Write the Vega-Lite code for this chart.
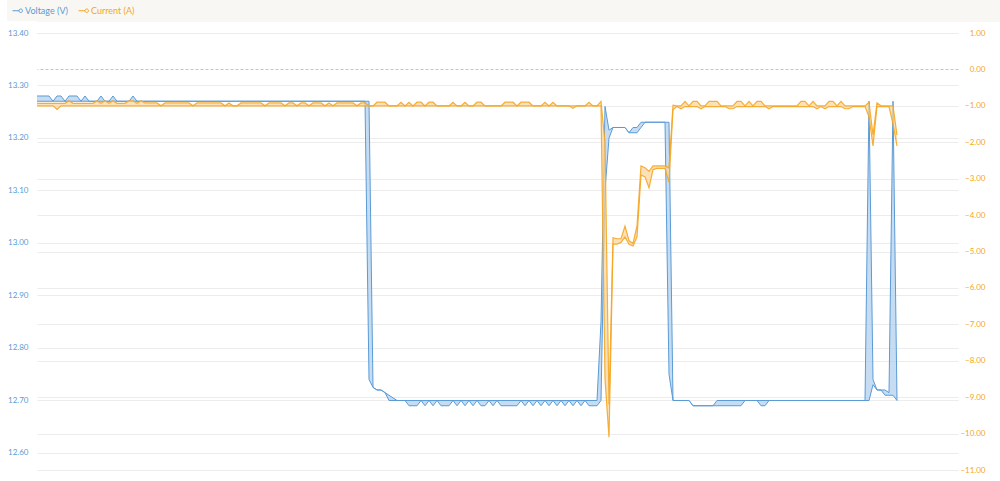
{
"$schema":"https://vega.github.io/schema/vega-lite/v6.json",
"padding":0,
"spacing":7,
"config":{"view":{"stroke":null},"font":"Lato"},
"datasets":{"d":[
{"t":0,"vl":13.27,"vh":13.28,"cl":-1,"ch":-0.93},
{"t":1,"vl":13.27,"vh":13.28,"cl":-1,"ch":-0.93},
{"t":2,"vl":13.27,"vh":13.28,"cl":-1,"ch":-0.93},
{"t":3,"vl":13.27,"vh":13.28,"cl":-1,"ch":-0.93},
{"t":4,"vl":13.27,"vh":13.27,"cl":-1,"ch":-0.93},
{"t":5,"vl":13.27,"vh":13.28,"cl":-1.1,"ch":-0.93},
{"t":6,"vl":13.27,"vh":13.28,"cl":-1,"ch":-0.93},
{"t":7,"vl":13.27,"vh":13.27,"cl":-1,"ch":-0.93},
{"t":8,"vl":13.27,"vh":13.28,"cl":-1,"ch":-0.86},
{"t":9,"vl":13.27,"vh":13.28,"cl":-1,"ch":-0.93},
{"t":10,"vl":13.27,"vh":13.28,"cl":-1,"ch":-0.93},
{"t":11,"vl":13.27,"vh":13.27,"cl":-1,"ch":-0.93},
{"t":12,"vl":13.27,"vh":13.28,"cl":-1,"ch":-0.93},
{"t":13,"vl":13.27,"vh":13.27,"cl":-1,"ch":-0.93},
{"t":14,"vl":13.27,"vh":13.27,"cl":-1,"ch":-0.93},
{"t":15,"vl":13.27,"vh":13.27,"cl":-1,"ch":-0.86},
{"t":16,"vl":13.27,"vh":13.28,"cl":-1,"ch":-0.93},
{"t":17,"vl":13.27,"vh":13.27,"cl":-1,"ch":-0.86},
{"t":18,"vl":13.27,"vh":13.27,"cl":-1,"ch":-0.93},
{"t":19,"vl":13.27,"vh":13.28,"cl":-1,"ch":-0.86},
{"t":20,"vl":13.27,"vh":13.27,"cl":-1,"ch":-0.93},
{"t":21,"vl":13.27,"vh":13.27,"cl":-1,"ch":-0.93},
{"t":22,"vl":13.27,"vh":13.27,"cl":-1,"ch":-0.93},
{"t":23,"vl":13.27,"vh":13.27,"cl":-1,"ch":-0.86},
{"t":24,"vl":13.27,"vh":13.28,"cl":-1,"ch":-0.86},
{"t":25,"vl":13.27,"vh":13.27,"cl":-1,"ch":-0.93},
{"t":26,"vl":13.27,"vh":13.27,"cl":-1,"ch":-0.86},
{"t":27,"vl":13.27,"vh":13.27,"cl":-1,"ch":-0.92},
{"t":28,"vl":13.27,"vh":13.27,"cl":-1,"ch":-0.92},
{"t":29,"vl":13.27,"vh":13.27,"cl":-1,"ch":-0.92},
{"t":30,"vl":13.27,"vh":13.27,"cl":-1,"ch":-0.92},
{"t":31,"vl":13.27,"vh":13.27,"cl":-1,"ch":-1},
{"t":32,"vl":13.27,"vh":13.27,"cl":-1,"ch":-0.92},
{"t":33,"vl":13.27,"vh":13.27,"cl":-1,"ch":-0.92},
{"t":34,"vl":13.27,"vh":13.27,"cl":-1,"ch":-0.92},
{"t":35,"vl":13.27,"vh":13.27,"cl":-1,"ch":-0.92},
{"t":36,"vl":13.27,"vh":13.27,"cl":-1,"ch":-0.92},
{"t":37,"vl":13.27,"vh":13.27,"cl":-1,"ch":-0.92},
{"t":38,"vl":13.27,"vh":13.27,"cl":-1,"ch":-0.92},
{"t":39,"vl":13.27,"vh":13.27,"cl":-1,"ch":-1},
{"t":40,"vl":13.27,"vh":13.27,"cl":-1,"ch":-0.92},
{"t":41,"vl":13.27,"vh":13.27,"cl":-1,"ch":-0.92},
{"t":42,"vl":13.27,"vh":13.27,"cl":-1,"ch":-0.92},
{"t":43,"vl":13.27,"vh":13.27,"cl":-1,"ch":-0.92},
{"t":44,"vl":13.27,"vh":13.27,"cl":-1,"ch":-0.92},
{"t":45,"vl":13.27,"vh":13.27,"cl":-1,"ch":-0.92},
{"t":46,"vl":13.27,"vh":13.27,"cl":-1,"ch":-0.92},
{"t":47,"vl":13.27,"vh":13.27,"cl":-1,"ch":-1},
{"t":48,"vl":13.27,"vh":13.27,"cl":-1,"ch":-0.92},
{"t":49,"vl":13.27,"vh":13.27,"cl":-1,"ch":-1},
{"t":50,"vl":13.27,"vh":13.27,"cl":-1,"ch":-1},
{"t":51,"vl":13.27,"vh":13.27,"cl":-1,"ch":-0.92},
{"t":52,"vl":13.27,"vh":13.27,"cl":-1,"ch":-0.92},
{"t":53,"vl":13.27,"vh":13.27,"cl":-1,"ch":-0.92},
{"t":54,"vl":13.27,"vh":13.27,"cl":-1,"ch":-0.92},
{"t":55,"vl":13.27,"vh":13.27,"cl":-1,"ch":-0.92},
{"t":56,"vl":13.27,"vh":13.27,"cl":-1,"ch":-0.92},
{"t":57,"vl":13.27,"vh":13.27,"cl":-1,"ch":-1},
{"t":58,"vl":13.27,"vh":13.27,"cl":-1,"ch":-0.92},
{"t":59,"vl":13.27,"vh":13.27,"cl":-1,"ch":-0.92},
{"t":60,"vl":13.27,"vh":13.27,"cl":-1,"ch":-0.92},
{"t":61,"vl":13.27,"vh":13.27,"cl":-1,"ch":-0.92},
{"t":62,"vl":13.27,"vh":13.27,"cl":-1,"ch":-1},
{"t":63,"vl":13.27,"vh":13.27,"cl":-1,"ch":-0.92},
{"t":64,"vl":13.27,"vh":13.27,"cl":-1,"ch":-0.92},
{"t":65,"vl":13.27,"vh":13.27,"cl":-1,"ch":-1},
{"t":66,"vl":13.27,"vh":13.27,"cl":-1,"ch":-0.92},
{"t":67,"vl":13.27,"vh":13.27,"cl":-1,"ch":-0.92},
{"t":68,"vl":13.27,"vh":13.27,"cl":-1,"ch":-1},
{"t":69,"vl":13.27,"vh":13.27,"cl":-1,"ch":-0.92},
{"t":70,"vl":13.27,"vh":13.27,"cl":-1,"ch":-0.92},
{"t":71,"vl":13.27,"vh":13.27,"cl":-1,"ch":-0.92},
{"t":72,"vl":13.27,"vh":13.27,"cl":-1,"ch":-1},
{"t":73,"vl":13.27,"vh":13.27,"cl":-1,"ch":-0.92},
{"t":74,"vl":13.27,"vh":13.27,"cl":-1,"ch":-1},
{"t":75,"vl":13.27,"vh":13.27,"cl":-1,"ch":-0.92},
{"t":76,"vl":13.27,"vh":13.27,"cl":-1,"ch":-0.92},
{"t":77,"vl":13.27,"vh":13.27,"cl":-1,"ch":-0.92},
{"t":78,"vl":13.27,"vh":13.27,"cl":-1,"ch":-0.92},
{"t":79,"vl":13.27,"vh":13.27,"cl":-1,"ch":-0.92},
{"t":80,"vl":13.27,"vh":13.27,"cl":-1,"ch":-1},
{"t":81,"vl":13.27,"vh":13.27,"cl":-1,"ch":-0.92},
{"t":82,"vl":13.27,"vh":13.27,"cl":-1,"ch":-0.92},
{"t":83,"vl":12.74,"vh":13.27,"cl":-1,"ch":-1},
{"t":84,"vl":12.725,"vh":12.725,"cl":-1,"ch":-1},
{"t":85,"vl":12.72,"vh":12.72,"cl":-1,"ch":-0.9},
{"t":86,"vl":12.72,"vh":12.72,"cl":-1,"ch":-0.9},
{"t":87,"vl":12.715,"vh":12.715,"cl":-1,"ch":-0.9},
{"t":88,"vl":12.7,"vh":12.71,"cl":-1,"ch":-1},
{"t":89,"vl":12.7,"vh":12.705,"cl":-1,"ch":-1},
{"t":90,"vl":12.7,"vh":12.7,"cl":-1,"ch":-1},
{"t":91,"vl":12.7,"vh":12.7,"cl":-1,"ch":-0.9},
{"t":92,"vl":12.7,"vh":12.7,"cl":-1,"ch":-1},
{"t":93,"vl":12.69,"vh":12.7,"cl":-1,"ch":-0.9},
{"t":94,"vl":12.69,"vh":12.7,"cl":-1,"ch":-1},
{"t":95,"vl":12.69,"vh":12.7,"cl":-1,"ch":-0.9},
{"t":96,"vl":12.7,"vh":12.7,"cl":-1,"ch":-0.9},
{"t":97,"vl":12.69,"vh":12.7,"cl":-1,"ch":-1},
{"t":98,"vl":12.7,"vh":12.7,"cl":-1,"ch":-0.9},
{"t":99,"vl":12.69,"vh":12.7,"cl":-1,"ch":-0.9},
{"t":100,"vl":12.7,"vh":12.7,"cl":-1,"ch":-1},
{"t":101,"vl":12.69,"vh":12.7,"cl":-1,"ch":-1},
{"t":102,"vl":12.69,"vh":12.7,"cl":-1,"ch":-1},
{"t":103,"vl":12.69,"vh":12.7,"cl":-1,"ch":-1},
{"t":104,"vl":12.7,"vh":12.7,"cl":-1,"ch":-0.9},
{"t":105,"vl":12.69,"vh":12.7,"cl":-1,"ch":-1},
{"t":106,"vl":12.7,"vh":12.7,"cl":-1,"ch":-1},
{"t":107,"vl":12.69,"vh":12.7,"cl":-1,"ch":-0.9},
{"t":108,"vl":12.7,"vh":12.7,"cl":-1,"ch":-1},
{"t":109,"vl":12.69,"vh":12.7,"cl":-1,"ch":-1},
{"t":110,"vl":12.7,"vh":12.7,"cl":-1,"ch":-0.9},
{"t":111,"vl":12.69,"vh":12.7,"cl":-1,"ch":-0.9},
{"t":112,"vl":12.69,"vh":12.7,"cl":-1,"ch":-1},
{"t":113,"vl":12.7,"vh":12.7,"cl":-1,"ch":-1},
{"t":114,"vl":12.69,"vh":12.7,"cl":-1,"ch":-1},
{"t":115,"vl":12.7,"vh":12.7,"cl":-1,"ch":-1},
{"t":116,"vl":12.69,"vh":12.7,"cl":-1,"ch":-1},
{"t":117,"vl":12.69,"vh":12.7,"cl":-1,"ch":-0.9},
{"t":118,"vl":12.69,"vh":12.7,"cl":-1,"ch":-0.9},
{"t":119,"vl":12.69,"vh":12.7,"cl":-1,"ch":-0.9},
{"t":120,"vl":12.69,"vh":12.7,"cl":-1,"ch":-1},
{"t":121,"vl":12.7,"vh":12.7,"cl":-1,"ch":-0.9},
{"t":122,"vl":12.69,"vh":12.7,"cl":-1,"ch":-0.9},
{"t":123,"vl":12.7,"vh":12.7,"cl":-1,"ch":-0.9},
{"t":124,"vl":12.69,"vh":12.7,"cl":-1,"ch":-1},
{"t":125,"vl":12.7,"vh":12.7,"cl":-1,"ch":-1},
{"t":126,"vl":12.69,"vh":12.7,"cl":-1,"ch":-1},
{"t":127,"vl":12.7,"vh":12.7,"cl":-1,"ch":-0.9},
{"t":128,"vl":12.69,"vh":12.7,"cl":-1,"ch":-1},
{"t":129,"vl":12.7,"vh":12.7,"cl":-1,"ch":-0.9},
{"t":130,"vl":12.69,"vh":12.7,"cl":-1,"ch":-1},
{"t":131,"vl":12.7,"vh":12.7,"cl":-1,"ch":-1},
{"t":132,"vl":12.69,"vh":12.7,"cl":-1,"ch":-1},
{"t":133,"vl":12.7,"vh":12.7,"cl":-1,"ch":-1},
{"t":134,"vl":12.69,"vh":12.7,"cl":-1.07,"ch":-1},
{"t":135,"vl":12.7,"vh":12.7,"cl":-1,"ch":-1},
{"t":136,"vl":12.69,"vh":12.7,"cl":-1,"ch":-1},
{"t":137,"vl":12.7,"vh":12.7,"cl":-1,"ch":-1},
{"t":138,"vl":12.69,"vh":12.7,"cl":-1,"ch":-0.9},
{"t":139,"vl":12.69,"vh":12.7,"cl":-1,"ch":-1},
{"t":140,"vl":12.69,"vh":12.7,"cl":-1,"ch":-1},
{"t":141,"vl":12.7,"vh":12.85,"cl":-1,"ch":-0.88},
{"t":142,"vl":13.1,"vh":13.26,"cl":-8.5,"ch":-2},
{"t":143,"vl":13.2,"vh":13.215,"cl":-10.1,"ch":-9.2},
{"t":144,"vl":13.22,"vh":13.22,"cl":-4.8,"ch":-4.62},
{"t":145,"vl":13.22,"vh":13.22,"cl":-4.8,"ch":-4.65},
{"t":146,"vl":13.22,"vh":13.22,"cl":-4.75,"ch":-4.65},
{"t":147,"vl":13.22,"vh":13.22,"cl":-4.6,"ch":-4.3},
{"t":148,"vl":13.21,"vh":13.21,"cl":-4.8,"ch":-4.7},
{"t":149,"vl":13.21,"vh":13.22,"cl":-4.85,"ch":-4.78},
{"t":150,"vl":13.21,"vh":13.22,"cl":-4.6,"ch":-4.3},
{"t":151,"vl":13.22,"vh":13.23,"cl":-2.9,"ch":-2.65},
{"t":152,"vl":13.23,"vh":13.23,"cl":-2.95,"ch":-2.7},
{"t":153,"vl":13.23,"vh":13.23,"cl":-3.25,"ch":-2.8},
{"t":154,"vl":13.23,"vh":13.23,"cl":-2.75,"ch":-2.65},
{"t":155,"vl":13.23,"vh":13.23,"cl":-2.72,"ch":-2.65},
{"t":156,"vl":13.23,"vh":13.23,"cl":-2.72,"ch":-2.65},
{"t":157,"vl":13.23,"vh":13.23,"cl":-2.72,"ch":-2.65},
{"t":158,"vl":12.75,"vh":13.23,"cl":-3.1,"ch":-2.7},
{"t":159,"vl":12.7,"vh":12.7,"cl":-1.1,"ch":-0.98},
{"t":160,"vl":12.7,"vh":12.7,"cl":-1.02,"ch":-1},
{"t":161,"vl":12.7,"vh":12.7,"cl":-1.08,"ch":-1},
{"t":162,"vl":12.7,"vh":12.7,"cl":-1.02,"ch":-0.88},
{"t":163,"vl":12.7,"vh":12.7,"cl":-1.02,"ch":-1},
{"t":164,"vl":12.69,"vh":12.69,"cl":-1.02,"ch":-0.88},
{"t":165,"vl":12.69,"vh":12.69,"cl":-1.02,"ch":-0.88},
{"t":166,"vl":12.69,"vh":12.69,"cl":-1.08,"ch":-1},
{"t":167,"vl":12.69,"vh":12.69,"cl":-1.02,"ch":-1},
{"t":168,"vl":12.69,"vh":12.69,"cl":-1.02,"ch":-0.88},
{"t":169,"vl":12.69,"vh":12.69,"cl":-1.02,"ch":-0.88},
{"t":170,"vl":12.69,"vh":12.7,"cl":-1.02,"ch":-0.88},
{"t":171,"vl":12.69,"vh":12.7,"cl":-1.02,"ch":-1},
{"t":172,"vl":12.69,"vh":12.7,"cl":-1.02,"ch":-1},
{"t":173,"vl":12.69,"vh":12.7,"cl":-1.08,"ch":-1},
{"t":174,"vl":12.69,"vh":12.7,"cl":-1.08,"ch":-1},
{"t":175,"vl":12.69,"vh":12.7,"cl":-1.02,"ch":-0.88},
{"t":176,"vl":12.69,"vh":12.7,"cl":-1.02,"ch":-0.88},
{"t":177,"vl":12.7,"vh":12.7,"cl":-1.02,"ch":-1},
{"t":178,"vl":12.7,"vh":12.7,"cl":-1.02,"ch":-0.88},
{"t":179,"vl":12.7,"vh":12.7,"cl":-1.02,"ch":-1},
{"t":180,"vl":12.7,"vh":12.7,"cl":-1.02,"ch":-0.88},
{"t":181,"vl":12.69,"vh":12.7,"cl":-1.02,"ch":-0.88},
{"t":182,"vl":12.69,"vh":12.7,"cl":-1.02,"ch":-1},
{"t":183,"vl":12.7,"vh":12.7,"cl":-1.08,"ch":-1},
{"t":184,"vl":12.7,"vh":12.7,"cl":-1.02,"ch":-1},
{"t":185,"vl":12.7,"vh":12.7,"cl":-1.02,"ch":-1},
{"t":186,"vl":12.7,"vh":12.7,"cl":-1.02,"ch":-1},
{"t":187,"vl":12.7,"vh":12.7,"cl":-1.02,"ch":-1},
{"t":188,"vl":12.7,"vh":12.7,"cl":-1.02,"ch":-1},
{"t":189,"vl":12.7,"vh":12.7,"cl":-1.02,"ch":-1},
{"t":190,"vl":12.7,"vh":12.7,"cl":-1.02,"ch":-1},
{"t":191,"vl":12.7,"vh":12.7,"cl":-1.02,"ch":-0.88},
{"t":192,"vl":12.7,"vh":12.7,"cl":-1.02,"ch":-0.88},
{"t":193,"vl":12.7,"vh":12.7,"cl":-1.02,"ch":-1},
{"t":194,"vl":12.7,"vh":12.7,"cl":-1.02,"ch":-0.88},
{"t":195,"vl":12.7,"vh":12.7,"cl":-1.08,"ch":-1},
{"t":196,"vl":12.7,"vh":12.7,"cl":-1.02,"ch":-1},
{"t":197,"vl":12.7,"vh":12.7,"cl":-1.08,"ch":-1},
{"t":198,"vl":12.7,"vh":12.7,"cl":-1.02,"ch":-0.88},
{"t":199,"vl":12.7,"vh":12.7,"cl":-1.02,"ch":-0.88},
{"t":200,"vl":12.7,"vh":12.7,"cl":-1.02,"ch":-1},
{"t":201,"vl":12.7,"vh":12.7,"cl":-1.02,"ch":-0.88},
{"t":202,"vl":12.7,"vh":12.7,"cl":-1.08,"ch":-1},
{"t":203,"vl":12.7,"vh":12.7,"cl":-1.08,"ch":-1},
{"t":204,"vl":12.7,"vh":12.7,"cl":-1.02,"ch":-1},
{"t":205,"vl":12.7,"vh":12.7,"cl":-1.02,"ch":-1},
{"t":206,"vl":12.7,"vh":12.7,"cl":-1.02,"ch":-1},
{"t":207,"vl":12.7,"vh":12.7,"cl":-1.02,"ch":-1},
{"t":208,"vl":12.7,"vh":13.27,"cl":-1.3,"ch":-0.9},
{"t":209,"vl":12.73,"vh":12.74,"cl":-2.1,"ch":-1.8},
{"t":210,"vl":12.72,"vh":12.72,"cl":-1.02,"ch":-0.92},
{"t":211,"vl":12.72,"vh":12.72,"cl":-1.02,"ch":-1},
{"t":212,"vl":12.71,"vh":12.72,"cl":-1.02,"ch":-1},
{"t":213,"vl":12.71,"vh":12.715,"cl":-1.02,"ch":-1},
{"t":214,"vl":12.71,"vh":13.27,"cl":-1.5,"ch":-1},
{"t":215,"vl":12.7,"vh":12.7,"cl":-2.1,"ch":-1.8}
]},
"vconcat":[
{
"width":963,"height":22,
"view":{"fill":"#f8f7f3","stroke":null},
"data":{"values":[{"series":"Voltage (V)"},{"series":"Current (A)"}]},
"mark":{"type":"point","opacity":0,"filled":false},
"encoding":{
"color":{"field":"series","type":"nominal","scale":{"domain":["Voltage (V)","Current (A)"],"range":["#5b9bd5","#f5a623"]},
"legend":{"orient":"none","legendX":-30,"legendY":0,"direction":"horizontal","title":null,
"fillColor":"#f8f7f3","padding":5,
"symbolType":"M-1,0H0.3M1,0A0.35,0.35,0,1,1,0.3,0A0.35,0.35,0,1,1,1,0",
"symbolSize":100,"symbolStrokeWidth":1,"symbolOpacity":1,"symbolFillColor":"transparent",
"labelFontSize":9,"labelFont":"Lato",
"labelColor":{"expr":"datum.value == 'Voltage (V)' ? '#5b9bd5' : '#f5a623'"},
"labelOffset":2,"columnPadding":7}}
}
},
{
"width":921,"height":437,
"data":{"name":"d"},
"encoding":{"x":{"field":"t","type":"quantitative","axis":null,"scale":{"domain":[0,230.25],"nice":false,"zero":false}}},
"layer":[
{"layer":[
{"mark":{"type":"area","color":"#b3d0ee","opacity":0.75},
"encoding":{"y":{"field":"vl","type":"quantitative","scale":{"domain":[12.5676,13.4],"nice":false,"zero":false},
"axis":{"orient":"left","title":null,"values":[12.6,12.7,12.8,12.9,13.0,13.1,13.2,13.3,13.4],"format":".2f","domain":false,"ticks":false,"labelFontSize":8,"labelFont":"Lato","labelColor":"#5b9bd5","labelPadding":9,"grid":true,"gridColor":"#ececec","minExtent":37,"maxExtent":37}},
"y2":{"field":"vh"}}},
{"transform":[{"fold":["vl","vh"],"as":["k","v"]}],
"mark":{"type":"line","color":"#5b9bd5","strokeWidth":1},
"encoding":{"y":{"field":"v","type":"quantitative","scale":{"domain":[12.5676,13.4],"nice":false,"zero":false},
"axis":{"orient":"left","title":null,"values":[12.6,12.7,12.8,12.9,13.0,13.1,13.2,13.3,13.4],"format":".2f","domain":false,"ticks":false,"labelFontSize":8,"labelFont":"Lato","labelColor":"#5b9bd5","labelPadding":9,"grid":true,"gridColor":"#ececec","minExtent":37,"maxExtent":37}},
"detail":{"field":"k"}}}
]},
{"layer":[
{"mark":{"type":"area","color":"#fbd49a","opacity":0.7},
"encoding":{"y":{"field":"cl","type":"quantitative","scale":{"domain":[-11,1],"nice":false,"zero":false},
"axis":{"orient":"right","title":null,"values":[1,0,-1,-2,-3,-4,-5,-6,-7,-8,-9,-10,-11],"format":".2f","domain":false,"ticks":false,"labelFontSize":8,"labelFont":"Lato","labelColor":"#f5a623","labelAlign":"right","labelPadding":27,"grid":true,
"gridColor":{"condition":{"test":"datum.value == 0","value":"#c4c4c4"},"value":"#ececec"},
"gridDash":{"condition":{"test":"datum.value == 0","value":[3,2]},"value":[]}}},
"y2":{"field":"ch"}}},
{"transform":[{"fold":["cl","ch"],"as":["k","v"]}],
"mark":{"type":"line","color":"#f5a623","strokeWidth":1.2,"opacity":0.9},
"encoding":{"y":{"field":"v","type":"quantitative","scale":{"domain":[-11,1],"nice":false,"zero":false},
"axis":{"orient":"right","title":null,"values":[1,0,-1,-2,-3,-4,-5,-6,-7,-8,-9,-10,-11],"format":".2f","domain":false,"ticks":false,"labelFontSize":8,"labelFont":"Lato","labelColor":"#f5a623","labelAlign":"right","labelPadding":27,"grid":true,
"gridColor":{"condition":{"test":"datum.value == 0","value":"#c4c4c4"},"value":"#ececec"},
"gridDash":{"condition":{"test":"datum.value == 0","value":[3,2]},"value":[]}}},
"detail":{"field":"k"}}}
]}
],
"resolve":{"scale":{"y":"independent"}}
}
]
}
